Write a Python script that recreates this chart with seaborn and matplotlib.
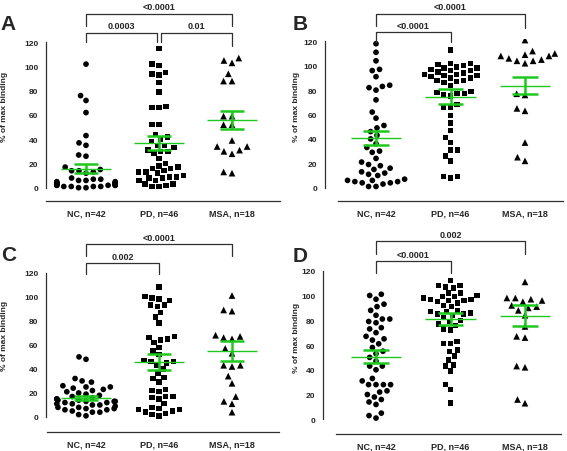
import numpy as np
import pandas as pd
import matplotlib
matplotlib.use('Agg')
import matplotlib.pyplot as plt
import seaborn as sns
import warnings

warnings.filterwarnings('ignore')

# groups / markers
groups = ['NC, n=42', 'PD, n=46', 'MSA, n=18']
markers = ['o', 's', '^']
marker_sizes = [4.1, 3.9, 4.8]

# panel A
a_nc = [102, 76, 72, 62, 43, 37, 35, 27, 26, 17, 15, 14, 14, 13, 12, 8, 7, 7, 6, 6, 5,
        5, 4, 4, 4, 4, 3, 3, 3, 3, 3, 2, 2, 2, 2, 2, 1, 1, 1, 1, 0, 0]
a_pd = [115, 102, 101, 95, 94, 93, 87, 79, 67, 66, 66, 52, 52, 44, 42, 40, 38, 35, 35, 33,
        31, 30, 30, 28, 24, 20, 18, 17, 16, 16, 14, 13, 13, 12, 10, 9, 9, 8, 8, 6, 6, 3, 3, 2, 1, 1]
a_msa = [107, 105, 103, 94, 88, 88, 59, 59, 52, 52, 39, 34, 34, 31, 30, 28, 13, 12]
a_mean = [15.5, 37.0, 56.0]
a_sem = [3.7, 5.6, 7.6]

# panel B
b_nc = [118, 111, 104, 97, 96, 91, 84, 83, 82, 80, 72, 62, 57, 51, 49, 46, 43, 40, 36, 33, 30,
        29, 24, 21, 19, 18, 16, 15, 13, 12, 11, 10, 7, 6, 6, 5, 5, 4, 4, 3, 1, 1]
b_pd = [113, 102, 102, 101, 100, 99, 98, 98, 97, 96, 96, 95, 94, 93, 93, 92, 92, 91, 90,
        90, 88, 88, 87, 86, 84, 9, 79, 78, 77, 77, 76, 75, 68, 66, 66, 59, 53, 47, 41, 37, 31, 31,
        26, 22, 9, 8]
b_msa = [121, 112, 110, 109, 108, 108, 106, 105, 104, 104, 102, 77, 76, 65, 63, 37, 25, 22]
b_mean = [40.6, 74.6, 83.6]
b_sem = [5.5, 5.9, 7.1]

# panel C
c_nc = [50, 48, 32, 30, 29, 26, 25, 25, 24, 23, 22, 21, 20, 19, 18, 17, 16, 15, 15, 14, 14,
        13, 13, 13, 12, 12, 11, 11, 10, 10, 9, 8, 8, 7, 7, 6, 6, 5, 4, 4, 2, 1]
c_pd = [108, 100, 99, 98, 97, 93, 93, 92, 87, 83, 78, 67, 66, 65, 64, 62, 58, 55, 52, 47,
        46, 46, 45, 43, 40, 36, 33, 32, 29, 23, 22, 21, 17, 17, 16, 15, 11, 8, 7, 6, 6, 5, 4, 3, 2, 1]
c_msa = [101, 89, 88, 68, 67, 66, 65, 57, 53, 43, 42, 43, 34, 28, 17, 13, 11, 4]
c_mean = [16.1, 46.0, 55.2]
c_sem = [1.7, 6.5, 8.3]

# panel D
d_nc = [101, 100, 97, 93, 91, 88, 84, 81, 81, 79, 78, 74, 73, 70, 67, 65, 64, 61, 58, 55, 53,
        50, 47, 43, 43, 40, 33, 31, 28, 28, 28, 28, 23, 22, 20, 18, 16, 14, 12, 5, 3, 1]
d_pd = [112, 108, 108, 107, 106, 102, 102, 100, 99, 99, 98, 97, 97, 96, 96, 95, 94, 92, 91, 88,
        87, 86, 85, 85, 84, 82, 80, 79, 77, 76, 73, 72, 63, 61, 61, 56, 55, 51, 48, 44, 43, 39,
        28, 24, 13, 87]
d_msa = [111, 98, 98, 97, 96, 95, 92, 91, 90, 84, 75, 67, 66, 43, 42, 16, 13, 88]
d_mean = [50.6, 80.7, 83.7]
d_sem = [5.0, 4.8, 8.7]

# significance labels
a_pvals = ['<0.0001', '0.0003', '0.01']
b_pvals = ['<0.0001', '<0.0001']
c_pvals = ['<0.0001', '0.002']
d_pvals = ['0.002', '<0.0001']

W, H = 567, 452
green = '#1ec81e'
dark = '#303030'

sns.set_style('white')
plt.rcParams['font.family'] = ['Liberation Sans', 'DejaVu Sans']
plt.rcParams['font.weight'] = 'bold'

fig = plt.figure(figsize=(W / 100, H / 100), dpi=100)

# (letter, left px, right px, zero px, px per unit, ymin, NC x px, spacing px, spine start px)
layout = [
    ('A', 46, 280, 188.7, 1.2117, -11.2, 86, 73.0, 46, (a_nc, a_pd, a_msa), a_mean, a_sem,
     [(0, 2, 143.5, 133.5, 133.5), (0, 0.97, 128, 120, 120), (1.03, 2, 128, 120, 117)], a_pvals,
     (8.5, 24.5), (5, 107)),
    ('B', 325, 563, 188.7, 1.22, -11.2, 376, 74.5, 338, (b_nc, b_pd, b_msa), b_mean, b_sem,
     [(0, 2, 142.5, 132.5, 131), (0, 1, 127.5, 119.5, 119.5)], b_pvals,
     (300.5, 24.5), (296, 107)),
    ('C', 46, 279, 418, 1.2025, -12.7, 86, 73.0, 47, (c_nc, c_pd, c_msa), c_mean, c_sem,
     [(0, 2, 143.5, 133.5, 133.5), (0, 1, 128, 119, 119)], c_pvals,
     (8.5, 255.5), (5, 336)),
    ('D', 323, 561, 420.3, 1.238, -12.1, 376, 74.5, 336, (d_nc, d_pd, d_msa), d_mean, d_sem,
     [(0, 2, 144, 133.5, 133.5), (0, 1, 127.5, 118.5, 118.5)], d_pvals,
     (300, 256), (296, 338)),
]

ymax = 122
for (letter, left, right, zero, ppu, ymin, xc0, dx, sp0, vals, means, sems,
     brackets, pvals, let_pos, lab_pos) in layout:
    top_px = zero - ymax * ppu
    bot_px = zero - ymin * ppu
    ax = fig.add_axes([left / W, 1 - bot_px / H, (right - left) / W, (bot_px - top_px) / H])
    xlim = ((left - xc0) / dx, (right - xc0) / dx)

    # invisible edge keeps a small gap between neighbouring points in the swarm
    for g, v, m, ms in zip(groups, vals, markers, marker_sizes):
        df = pd.DataFrame({'group': g, 'value': v})
        sns.swarmplot(data=df, x='group', y='value', order=groups, marker=m, size=ms,
                      color='black', linewidth=1.0, edgecolor='none', ax=ax, zorder=2)

    # mean +/- SEM
    for i, (mu, se) in enumerate(zip(means, sems)):
        ax.hlines(mu, i - 0.34, i + 0.34, color=green, lw=1.0, zorder=4)
        ax.hlines([mu - se, mu + se], i - 0.17, i + 0.17, color=green, lw=1.8, zorder=4)
        ax.vlines(i, mu - se, mu + se, color=green, lw=1.8, zorder=4)

    # significance brackets
    for (x1, x2, yl, y1, y2), lab in zip(brackets, pvals):
        ax.plot([x1, x1, x2, x2], [y1, yl, yl, y2], color=dark, lw=0.9, clip_on=False)
        ax.text((x1 + x2) / 2, yl + 2.0, lab, ha='center', va='bottom', fontsize=6.5,
                fontweight='bold', clip_on=False)

    ax.set_xlim(*xlim)
    ax.set_ylim(ymin, ymax)
    ax.set_yticks(np.arange(0, 121, 20))
    ax.set_xlabel('')
    ax.set_ylabel('')
    for s in ['top', 'right']:
        ax.spines[s].set_visible(False)
    ax.spines['left'].set_bounds(0, 120)
    ax.spines['bottom'].set_bounds((sp0 - xc0) / dx, xlim[1])
    for s in ['left', 'bottom']:
        ax.spines[s].set_color(dark)
        ax.spines[s].set_linewidth(0.9)
    ax.tick_params(axis='y', length=3, width=0.9, color=dark, pad=2.5, labelsize=6)
    ax.tick_params(axis='x', length=0, pad=5, labelsize=6.5)
    for t in ax.get_xticklabels() + ax.get_yticklabels():
        t.set_fontweight('bold')
    ax.patch.set_alpha(0)

    fig.text(let_pos[0] / W, 1 - let_pos[1] / H, letter, ha='center', va='center',
             fontsize=15, fontweight='bold')
    fig.text(lab_pos[0] / W, 1 - lab_pos[1] / H, '% of max binding', rotation=90,
             ha='center', va='center', fontsize=6, fontweight='bold')

fig.savefig('out.png', dpi=100)
